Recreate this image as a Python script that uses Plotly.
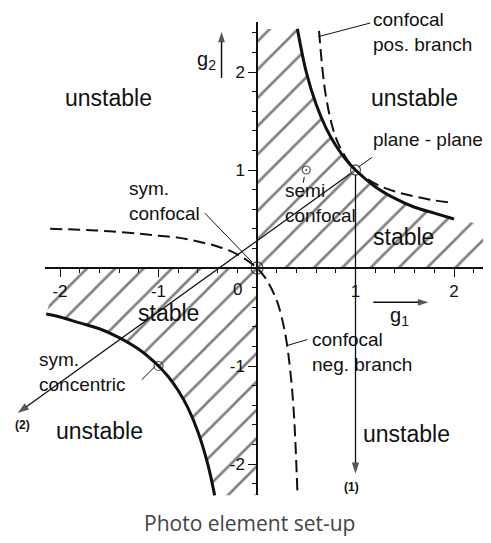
import plotly.graph_objects as go

# the page body adds an 8px margin, so the figure is shifted by that much
M = 8
W, H = 491 - M, 543 - M
OX, OY = 257 - M, 268 - M   # pixel position of g1 = g2 = 0 inside the figure
SX, SY = 98.5, 98.0         # pixels per unit

# stability limit g1*g2 = 1
hyp_q1_g1 = [0.41, 0.5, 0.6, 0.7, 0.8, 0.9, 1.0, 1.2, 1.4, 1.6, 1.8, 2.0]
hyp_q1_g2 = [2.44, 2.0, 1.67, 1.43, 1.25, 1.11, 1.0, 0.83, 0.71, 0.62, 0.56, 0.5]
hyp_q3_g1 = [-2.14, -2.0, -1.8, -1.6, -1.4, -1.2, -1.0, -0.9, -0.8, -0.7, -0.6, -0.5, -0.43]
hyp_q3_g2 = [-0.47, -0.5, -0.56, -0.62, -0.71, -0.83, -1.0, -1.11, -1.25, -1.43, -1.67, -2.0, -2.32]

# confocal resonators, positive and negative branch
conf_pos_g1 = [0.63, 0.7, 0.8, 0.9, 1.0, 1.2, 1.4, 1.6, 1.8, 1.95]
conf_pos_g2 = [2.42, 1.75, 1.33, 1.13, 1.0, 0.86, 0.78, 0.73, 0.69, 0.67]
conf_neg_g1 = [-2.1, -1.8, -1.5, -1.2, -1.0, -0.8, -0.6, -0.4, -0.2, 0.0, 0.1, 0.2, 0.25, 0.3, 0.35, 0.38, 0.41]
conf_neg_g2 = [0.40, 0.39, 0.375, 0.35, 0.33, 0.31, 0.27, 0.22, 0.14, 0.0, -0.125, -0.33, -0.5, -0.75, -1.17, -1.58, -2.28]

# hatched (stable) regions
stable_q1_g1 = [0.0, 0.0] + hyp_q1_g1 + [2.3, 2.3, 0.0]
stable_q1_g2 = [0.0, 2.44] + hyp_q1_g2 + [0.44, 0.0, 0.0]
stable_q3_g1 = [0.0, -2.0] + hyp_q3_g1 + [0.0, 0.0]
stable_q3_g2 = [0.0, 0.0] + hyp_q3_g2 + [-2.32, 0.0]

# special resonators
pts_g1 = [0.0, 1.0]
pts_g2 = [0.0, 1.0]
dot_pts_g1 = [0.5, -1.0]
dot_pts_g2 = [1.0, -1.0]

# light paths (1) and (2) leave the plane-plane point
path1_g1 = [1.0, 1.0]
path1_g2 = [0.95, -2.1]
path2_g1 = [0.95, -2.43]
path2_g2 = [0.965, -1.48]

tick_vals = [-2, -1, 1, 2]
tick_text = ['-2', '-1', '1', '2']

FONT = 'Liberation Sans, Arial, sans-serif'
INK = '#111'

fig = go.Figure()

hatch = dict(shape='/', fgcolor='#000', bgcolor='rgba(0,0,0,0)', size=20, solidity=0.13)
for gx, gy in [(stable_q1_g1, stable_q1_g2), (stable_q3_g1, stable_q3_g2)]:
    fig.add_trace(go.Scatter(x=gx, y=gy, fill='toself', fillcolor='rgba(0,0,0,0)',
                             fillpattern=hatch, mode='lines', line=dict(width=0),
                             hoverinfo='skip', showlegend=False))

for gx, gy in [(conf_pos_g1, conf_pos_g2), (conf_neg_g1, conf_neg_g2)]:
    fig.add_trace(go.Scatter(x=gx, y=gy, mode='lines', line_shape='spline',
                             line=dict(color=INK, width=2, dash='12px,6px'),
                             hoverinfo='skip', showlegend=False))

for gx, gy in [(hyp_q1_g1, hyp_q1_g2), (hyp_q3_g1, hyp_q3_g2)]:
    fig.add_trace(go.Scatter(x=gx, y=gy, mode='lines', line_shape='spline',
                             line=dict(color=INK, width=3),
                             hoverinfo='skip', showlegend=False))


def seg(x, y, width=1.0, head=0):
    # straight line, optionally ending in an arrowhead
    fig.add_trace(go.Scatter(x=x, y=y, mode='lines+markers' if head else 'lines',
                             line=dict(color=INK, width=width),
                             marker=dict(symbol='arrow', angleref='previous', size=[0, head],
                                         color=INK, line=dict(width=0)),
                             hoverinfo='skip', showlegend=False, cliponaxis=False))


seg(path1_g1, path1_g2, 1.3, 12)
seg(path2_g1, path2_g2, 1.3, 12)

# axis direction arrows
seg([-0.36, -0.36], [1.94, 2.41], 1.5, 11)
seg([1.18, 1.74], [-0.35, -0.35], 1.5, 11)

# leader lines from the labels
seg([1.15, 0.62], [2.5, 2.36])
seg([1.17, 1.03], [1.13, 1.03])
seg([-0.53, -0.05], [0.56, 0.06])
seg([0.47, 0.48], [0.87, 0.93])
seg([0.51, 0.31], [-0.73, -0.79])
seg([-1.17, -1.04], [-1.14, -1.01])

fig.add_trace(go.Scatter(x=pts_g1, y=pts_g2, mode='markers',
                         marker=dict(symbol='circle-open', size=[12, 10], color=INK,
                                     line=dict(width=1.3)),
                         hoverinfo='skip', showlegend=False))
fig.add_trace(go.Scatter(x=dot_pts_g1, y=dot_pts_g2, mode='markers',
                         marker=dict(symbol='circle-open-dot', size=[8, 9], color=INK,
                                     line=dict(width=1.2)),
                         hoverinfo='skip', showlegend=False))

# invisible trace that carries the crossing axes
fig.add_trace(go.Scatter(x=[0], y=[0], xaxis='x2', yaxis='y2', mode='markers',
                         marker=dict(opacity=0), hoverinfo='skip', showlegend=False))

ann = []


def text(x, y, s, size=19, **kw):
    d = dict(x=x, y=y, xref='x', yref='y', text=s, showarrow=False,
             font=dict(family=FONT, size=size, color=INK))
    d.update(kw)
    ann.append(d)


text(-1.51, 1.73, 'unstable', 23)
text(1.6, 1.73, 'unstable', 23)
text(-1.6, -1.66, 'unstable', 23)
text(1.52, -1.69, 'unstable', 23)
text(1.49, 0.32, 'stable', 23)
text(-0.9, -0.46, 'stable', 23)

text(1.16, 2.41, 'confocal<br>pos. branch', xanchor='left', align='left')
text(1.16, 1.31, 'plane - plane', xanchor='left')
text(-1.32, 0.68, 'sym.<br>confocal', xanchor='left', align='left')
text(0.26, 0.66, 'semi<br>confocal', xanchor='left', align='left')
text(0.54, -0.86, 'confocal<br>neg. branch', xanchor='left', align='left')
text(-2.23, -1.06, 'sym.<br>concentric', xanchor='left', align='left')

text(0.96, -2.23, '<b>(1)</b>', 12)
text(-2.38, -1.6, '<b>(2)</b>', 12)
text(-0.2, -0.22, '0', 17)
text(-0.51, 2.12, 'g<sub>2</sub>', 20)
text(1.45, -0.49, 'g<sub>1</sub>', 20)

ann.append(dict(x=0.5, y=(H - (523 - M)) / H, xref='paper', yref='paper', showarrow=False,
                xanchor='center', yanchor='middle', text='Photo element set-up',
                font=dict(family='Open Sans, Noto Sans, sans-serif', size=21, color='#444')))

axis_common = dict(showgrid=False, zeroline=False, showline=True, linecolor=INK,
                   linewidth=1.5, ticks='outside', ticklen=8, tickwidth=1.3,
                   tickcolor=INK, tickmode='array', tickvals=tick_vals, ticktext=tick_text,
                   tickfont=dict(family=FONT, size=17, color=INK),
                   minor=dict(tick0=0, dtick=0.2, ticks='outside', ticklen=4,
                              tickwidth=1.1, tickcolor=INK))

x_left, y_top, y_bot = 45 - M, 22 - M, 495 - M   # visible extent of the crossing axes
fig.update_layout(
    width=W, height=H,
    margin=dict(l=0, r=0, t=0, b=0, pad=0),
    paper_bgcolor='white', plot_bgcolor='rgba(0,0,0,0)',
    showlegend=False,
    xaxis=dict(domain=[0, 1], range=[-OX / SX, (W - OX) / SX], visible=False),
    yaxis=dict(domain=[0, 1], range=[-(H - OY) / SY, OY / SY], visible=False),
    xaxis2=dict(domain=[x_left / W, 1], range=[(x_left - OX) / SX, (W - OX) / SX],
                anchor='free', position=(H - OY) / H, side='bottom', **axis_common),
    yaxis2=dict(domain=[(H - y_bot) / H, (H - y_top) / H],
                range=[(OY - y_bot) / SY, (OY - y_top) / SY],
                anchor='free', position=OX / W, side='left', **axis_common),
    annotations=ann,
)

fig.write_html("out.html")
